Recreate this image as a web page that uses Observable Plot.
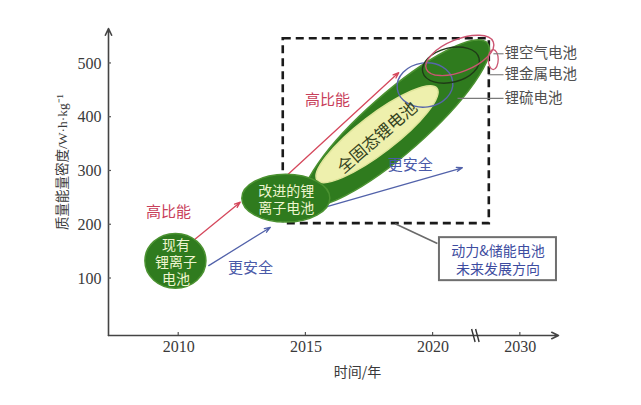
<!DOCTYPE html>
<html>
<head>
<meta charset="utf-8">
<script src="https://cdn.jsdelivr.net/npm/d3@7"></script>
<script src="https://cdn.jsdelivr.net/npm/@observablehq/plot@0.6"></script>
<style>
  html, body { margin: 0; padding: 0; background: #fff; }
  #chart svg { display: block; }
</style>
</head>
<body>
<div id="chart"></div>
<script>
// ---- Axes -------------------------------------------------------------
// The time axis is broken after 2020; the 2030 tick is placed just past the break.
const xTickPos = [2010, 2015, 2020, 2023.43];
const xTickLabels = ["2010", "2015", "2020", "2030"];
const axisBreakYear = 2021.75;
const yTicks = [100, 200, 300, 400, 500];
const xExtent = [2007.24, 2024.93];
const yExtent = [-6, 565];

// ---- Li-ion cell generations (time span × energy-density span) ----------
const cellLabels = ["现有\n锂离子\n电池", "改进的锂\n离子电池"];
const cellYearFrom = [2008.69, 2012.5];
const cellYearTo = [2011.09, 2015.96];
const cellDensityLow = [81, 204];
const cellDensityHigh = [183, 293];

// ---- All-solid-state band: ends of the long axis ------------------------
const solidLabel = "全固态锂电池";
const solidOuterYear = [2015.0, 2022.15];
const solidOuterDensity = [240, 537];
const solidInnerYear = [2015.46, 2020.17];
const solidInnerDensity = [282, 453];

// ---- Next-generation chemistries ----------------------------------------
const nextNames = ["锂硫电池", "锂金属电池", "锂空气电池"];
const nextYear = [2019.7, 2020.72, 2021.07];
const nextDensity = [459, 496, 514];
const nextHalfYears = [1.1, 1.14, 1.42];
const nextHalfDensity = [41, 32, 30];
const nextLeaderFrom = [2020.96, 2022.17, 2022.37];
const nextLabelYear = [2022.77, 2022.77, 2022.77];
const nextLabelDensity = [435, 479, 518];

// ---- Development trends ------------------------------------------------
const trendLabels = ["高比能", "更安全", "高比能", "更安全"];
const trendKind = ["energy", "safety", "energy", "safety"];
const trendYearFrom = [2010.59, 2011.18, 2014.12, 2015.69];
const trendDensityFrom = [171, 124, 286, 232];
const trendYearTo = [2012.42, 2013.6, 2018.65, 2021.15];
const trendDensityTo = [242, 195, 483, 306];
const trendLabelYear = [2009.6, 2012.82, 2015.85, 2019.1];
const trendLabelDensity = [223, 120, 431, 310];

// ---- Future-direction frame and its callout ----------------------------
const futureYears = [2014.11, 2022.21];
const futureDensity = [202, 546];
const calloutText = "动力&储能电池\n未来发展方向";
const calloutYears = [2020.25, 2024.85];
const calloutDensity = [96, 176];
const calloutLeaderYear = [2018.51, 2020.17];
const calloutLeaderDensity = [202, 165];

// ---- Styling -------------------------------------------------------------
const FONT = "'Liberation Serif', 'Noto Sans CJK SC', serif";
const CJK = "'Noto Sans CJK SC', 'Liberation Serif', sans-serif";
const trendColor = {energy: "#d5485c", safety: "#5262aa"};
const nextStroke = ["#5766ab", "#1f3b17", "#cc5672"];
const nextTilt = [-8, -14, -22];
const greenFill = "#2f7b1e", greenEdge = "#4b9231";

const idx = a => a.map((_, i) => i);

// Filled ellipses for the cell generations and the solid-state band
function ellipseLayer(index, scales) {
  const {x, y} = scales;
  const g = d3.create("svg:g");
  const band = (yrs, dens, minor, fill, stroke) => {
    const x1 = x(yrs[0]), y1 = y(dens[0]), x2 = x(yrs[1]), y2 = y(dens[1]);
    const cx = (x1 + x2) / 2, cy = (y1 + y2) / 2;
    const major = Math.hypot(x2 - x1, y2 - y1) / 2;
    const ang = Math.atan2(y2 - y1, x2 - x1) * 180 / Math.PI;
    g.append("ellipse")
      .attr("cx", 0).attr("cy", 0).attr("rx", major).attr("ry", minor)
      .attr("transform", `translate(${cx},${cy}) rotate(${ang})`)
      .attr("fill", fill).attr("stroke", stroke).attr("stroke-width", 1.5);
  };
  band(solidOuterYear, solidOuterDensity, 30, greenFill, greenEdge);
  band(solidInnerYear, solidInnerDensity, 19, "#eef0ad", "#dfe59a");
  cellLabels.forEach((_, i) => {
    const x1 = x(cellYearFrom[i]), x2 = x(cellYearTo[i]);
    const y1 = y(cellDensityLow[i]), y2 = y(cellDensityHigh[i]);
    g.append("ellipse")
      .attr("cx", (x1 + x2) / 2).attr("cy", (y1 + y2) / 2)
      .attr("rx", Math.abs(x2 - x1) / 2).attr("ry", Math.abs(y2 - y1) / 2)
      .attr("fill", greenFill).attr("stroke", greenEdge).attr("stroke-width", 1.5);
  });
  return g.node();
}

// Outline ellipses for the next-generation chemistries
function outlineLayer(index, scales) {
  const {x, y} = scales;
  const g = d3.create("svg:g").attr("fill", "none");
  nextNames.forEach((_, i) => {
    const cx = x(nextYear[i]), cy = y(nextDensity[i]);
    const rx = x(nextYear[i] + nextHalfYears[i]) - cx;
    const ry = cy - y(nextDensity[i] + nextHalfDensity[i]);
    g.append("ellipse")
      .attr("rx", rx).attr("ry", ry)
      .attr("transform", `translate(${cx},${cy}) rotate(${nextTilt[i]})`)
      .attr("stroke", nextStroke[i]).attr("stroke-width", 1.4);
  });
  // small curl at the tip of the Li–air outline
  const i = 2;
  const tx = x(nextYear[i] + nextHalfYears[i] * 0.98), ty = y(nextDensity[i] - 4);
  g.append("ellipse").attr("cx", tx - 2).attr("cy", ty + 2).attr("rx", 5).attr("ry", 10)
    .attr("stroke", nextStroke[i]).attr("stroke-width", 1.3);
  return g.node();
}

// Inward tick marks and the axis-break strokes
function tickLayer(index, scales) {
  const {x, y} = scales;
  const g = d3.create("svg:g").attr("stroke", "#555").attr("stroke-width", 1.2);
  const x0 = x(xExtent[0]), y0 = y(yExtent[0]);
  yTicks.forEach(v => g.append("line").attr("x1", x0).attr("x2", x0 + 3).attr("y1", y(v)).attr("y2", y(v)));
  xTickPos.forEach(v => g.append("line").attr("x1", x(v)).attr("x2", x(v)).attr("y1", y0).attr("y2", y0 - 3));
  const bx = x(axisBreakYear);
  [-4, 0].forEach(o => g.append("line")
    .attr("x1", bx + o - 1.5).attr("y1", y0 - 6)
    .attr("x2", bx + o + 2).attr("y2", y0 + 7)
    .attr("stroke", "#333").attr("stroke-width", 1.4));
  return g.node();
}

const chart = Plot.plot({
  width: 641,
  height: 405,
  marginLeft: 108,
  marginRight: 83,
  marginTop: 28,
  marginBottom: 70,
  x: {domain: xExtent},
  y: {domain: yExtent},
  style: {fontFamily: FONT, fontSize: "16px", background: "#fff", color: "#3a3a3a", overflow: "visible"},
  marks: [
    // tick labels
    Plot.axisX(xTickPos, {
      tickSize: 0, tickPadding: 5, label: null,
      tickFormat: d => xTickLabels[xTickPos.indexOf(d)],
      fill: "#3a3a3a"
    }),
    Plot.axisY(yTicks, {tickSize: 0, tickPadding: 7, label: null, fill: "#3a3a3a"}),
    // axis lines with arrowheads
    Plot.arrow([0], {
      x1: xExtent[0], y1: yExtent[0], x2: xExtent[0], y2: yExtent[1],
      stroke: "#444", strokeWidth: 1.6, headLength: 7, headAngle: 50
    }),
    Plot.arrow([0], {
      x1: xExtent[0], y1: yExtent[0], x2: xExtent[1], y2: yExtent[0],
      stroke: "#444", strokeWidth: 1.6, headLength: 7, headAngle: 50
    }),
    tickLayer,
    // future-direction frame
    Plot.rect([0], {
      x1: futureYears[0], x2: futureYears[1], y1: futureDensity[0], y2: futureDensity[1],
      fill: "none", stroke: "#1a1a1a", strokeWidth: 2.6, strokeDasharray: "8,5"
    }),
    // callout leader and box
    Plot.link([0], {
      x1: calloutLeaderYear[0], y1: calloutLeaderDensity[0],
      x2: calloutLeaderYear[1], y2: calloutLeaderDensity[1],
      stroke: "#6a6a6a", strokeWidth: 1.6
    }),
    Plot.rect([0], {
      x1: calloutYears[0], x2: calloutYears[1], y1: calloutDensity[0], y2: calloutDensity[1],
      fill: "#fff", stroke: "#6f6f6f", strokeWidth: 2
    }),
    Plot.text([calloutText], {
      x: (calloutYears[0] + calloutYears[1]) / 2,
      y: (calloutDensity[0] + calloutDensity[1]) / 2,
      text: d => d, fill: "#3d4ca0", fontSize: 14, lineHeight: 1.25, fontFamily: CJK
    }),
    // trend arrows
    Plot.arrow(idx(trendLabels), {
      x1: i => trendYearFrom[i], y1: i => trendDensityFrom[i],
      x2: i => trendYearTo[i], y2: i => trendDensityTo[i],
      stroke: i => trendColor[trendKind[i]], strokeWidth: 1.3,
      headLength: 7, headAngle: 40
    }),
    ellipseLayer,
    outlineLayer,
    // next-generation leaders and names
    Plot.link(idx(nextNames), {
      x1: i => nextLeaderFrom[i], x2: i => nextLabelYear[i],
      y1: i => nextLabelDensity[i], y2: i => nextLabelDensity[i],
      stroke: "#7a7a7a", strokeWidth: 1.1
    }),
    Plot.text(idx(nextNames), {
      x: i => nextLabelYear[i], y: i => nextLabelDensity[i], text: i => nextNames[i],
      textAnchor: "start", dx: 1, fill: "#505050", fontSize: 14.5, fontFamily: CJK
    }),
    // trend labels
    Plot.text(idx(trendLabels), {
      x: i => trendLabelYear[i], y: i => trendLabelDensity[i], text: i => trendLabels[i],
      fill: i => trendKind[i] === "energy" ? "#c8405a" : "#4a5aa8", fontSize: 15, fontFamily: CJK
    }),
    // labels inside the cell ellipses
    Plot.text(idx(cellLabels), {
      x: i => (cellYearFrom[i] + cellYearTo[i]) / 2,
      y: i => (cellDensityLow[i] + cellDensityHigh[i]) / 2,
      text: i => cellLabels[i], fill: "#eef5cf", fontSize: 14, lineHeight: 1.22, fontFamily: CJK
    }),
    Plot.text([solidLabel], {
      x: (solidInnerYear[0] + solidInnerYear[1]) / 2,
      y: (solidInnerDensity[0] + solidInnerDensity[1]) / 2,
      text: d => d, rotate: -41, dy: 3, fill: "#34431d", fontSize: 16.5, fontFamily: CJK
    }),
    // axis titles
    Plot.text(["质量能量密度/W·h·kg⁻¹"], {
      frameAnchor: "left", textAnchor: "middle", lineAnchor: "middle",
      dx: -46, dy: -20, rotate: -90, text: d => d,
      fill: "#3a3a3a", fontSize: 13.5, letterSpacing: 1, fontFamily: FONT
    }),
    Plot.text(["时间/年"], {
      frameAnchor: "bottom", textAnchor: "middle", lineAnchor: "middle",
      dx: 24, dy: 37, text: d => d,
      fill: "#3a3a3a", fontSize: 14, fontFamily: CJK
    })
  ]
});

document.getElementById("chart").appendChild(chart);
</script>
</body>
</html>
